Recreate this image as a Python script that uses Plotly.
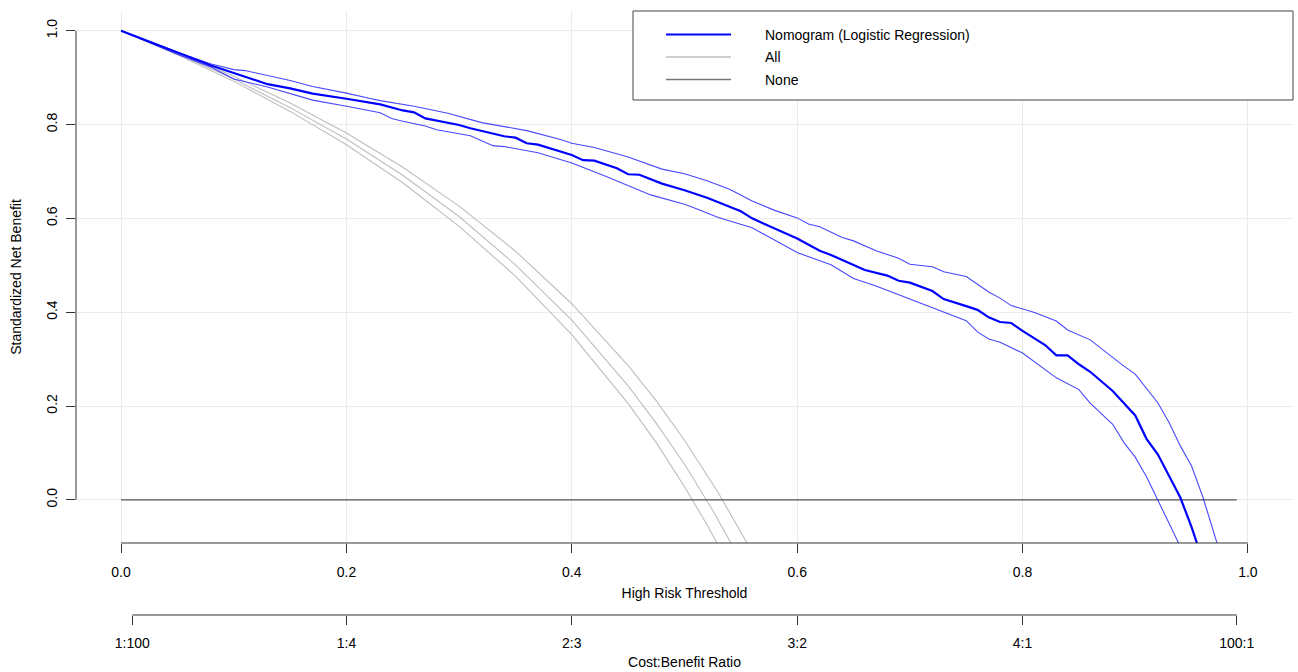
import plotly.graph_objects as go

# ---------------- data ----------------
# Nomogram (Logistic Regression) - standardized net benefit, point estimate
nomo_t = [0.00, 0.03, 0.05, 0.08, 0.10, 0.11, 0.13, 0.15, 0.17, 0.20, 0.23, 0.25, 0.26, 0.27,
          0.30, 0.31, 0.34, 0.35, 0.36, 0.37, 0.40, 0.41, 0.42, 0.44, 0.45, 0.46, 0.48, 0.50,
          0.52, 0.55, 0.56, 0.57, 0.59, 0.60, 0.62, 0.63, 0.66, 0.68, 0.69, 0.70, 0.72, 0.73,
          0.75, 0.76, 0.77, 0.78, 0.79, 0.80, 0.82, 0.83, 0.84, 0.85, 0.86, 0.88, 0.90, 0.91,
          0.92, 0.93, 0.94, 0.95, 0.96]
nomo_v = [1.000, 0.972, 0.953, 0.926, 0.910, 0.902, 0.886, 0.877, 0.866, 0.855, 0.843, 0.830, 0.826, 0.813,
          0.799, 0.792, 0.775, 0.772, 0.760, 0.757, 0.735, 0.724, 0.723, 0.707, 0.694, 0.693, 0.674, 0.660,
          0.644, 0.615, 0.600, 0.589, 0.567, 0.557, 0.531, 0.522, 0.490, 0.478, 0.467, 0.463, 0.445, 0.428,
          0.413, 0.405, 0.389, 0.379, 0.377, 0.360, 0.330, 0.308, 0.308, 0.289, 0.273, 0.232, 0.180, 0.130,
          0.097, 0.051, 0.005, -0.058, -0.130]

# Nomogram upper confidence limit
nomo_up_t = [0.00, 0.05, 0.08, 0.10, 0.11, 0.12, 0.15, 0.17, 0.20, 0.22, 0.23, 0.26, 0.29, 0.32,
             0.36, 0.39, 0.40, 0.42, 0.45, 0.48, 0.50, 0.52, 0.54, 0.56, 0.58, 0.60, 0.61, 0.62,
             0.64, 0.65, 0.67, 0.69, 0.70, 0.72, 0.73, 0.75, 0.76, 0.77, 0.78, 0.79, 0.81, 0.83,
             0.84, 0.86, 0.89, 0.90, 0.92, 0.93, 0.94, 0.95, 0.96, 0.97, 0.98]
nomo_up_v = [1.000, 0.954, 0.929, 0.917, 0.915, 0.910, 0.894, 0.881, 0.867, 0.856, 0.851, 0.839, 0.824, 0.804,
             0.787, 0.768, 0.760, 0.751, 0.731, 0.705, 0.695, 0.680, 0.662, 0.637, 0.617, 0.601, 0.588, 0.582,
             0.559, 0.552, 0.531, 0.515, 0.502, 0.497, 0.486, 0.476, 0.460, 0.443, 0.430, 0.414, 0.400, 0.381,
             0.362, 0.341, 0.285, 0.268, 0.207, 0.165, 0.115, 0.072, 0.006, -0.070, -0.150]

# Nomogram lower confidence limit
nomo_lo_t = [0.00, 0.05, 0.08, 0.10, 0.13, 0.15, 0.17, 0.20, 0.23, 0.24, 0.25, 0.27, 0.28, 0.31,
             0.33, 0.34, 0.36, 0.37, 0.40, 0.43, 0.47, 0.50, 0.51, 0.53, 0.56, 0.58, 0.60, 0.63,
             0.65, 0.67, 0.70, 0.73, 0.75, 0.76, 0.77, 0.78, 0.80, 0.83, 0.85, 0.86, 0.88, 0.89,
             0.90, 0.91, 0.92, 0.93, 0.94]
nomo_lo_v = [1.000, 0.950, 0.922, 0.897, 0.880, 0.866, 0.852, 0.839, 0.825, 0.813, 0.807, 0.797, 0.789, 0.776,
             0.755, 0.753, 0.744, 0.740, 0.718, 0.690, 0.650, 0.630, 0.621, 0.602, 0.580, 0.553, 0.527, 0.501,
             0.472, 0.456, 0.428, 0.400, 0.382, 0.358, 0.343, 0.336, 0.313, 0.260, 0.235, 0.206, 0.161, 0.122,
             0.091, 0.049, 0.001, -0.050, -0.100]

# "All" strategy with its confidence limits
all_t = [0.00, 0.05, 0.10, 0.15, 0.20, 0.25, 0.30, 0.35, 0.40, 0.45, 0.475, 0.50, 0.525, 0.55]
all_v = [1.000, 0.951, 0.897, 0.836, 0.769, 0.692, 0.604, 0.501, 0.383, 0.243, 0.163, 0.076, -0.022, -0.130]

all_up_t = [0.00, 0.05, 0.10, 0.15, 0.20, 0.25, 0.30, 0.35, 0.40, 0.45, 0.475, 0.50, 0.53, 0.56]
all_up_v = [1.000, 0.954, 0.903, 0.846, 0.782, 0.709, 0.626, 0.530, 0.418, 0.286, 0.211, 0.127, 0.015, -0.111]

all_lo_t = [0.00, 0.05, 0.10, 0.15, 0.20, 0.25, 0.30, 0.35, 0.40, 0.45, 0.475, 0.50, 0.52, 0.54]
all_lo_v = [1.000, 0.949, 0.892, 0.828, 0.757, 0.676, 0.583, 0.477, 0.352, 0.205, 0.122, 0.028, -0.053, -0.141]

# "None" strategy
none_t = [0.00, 0.99]
none_v = [0.0, 0.0]

# axis ticks
x_ticks = [0.0, 0.2, 0.4, 0.6, 0.8, 1.0]
y_ticks = [0.0, 0.2, 0.4, 0.6, 0.8, 1.0]
cb_cost = [1, 1, 2, 3, 4, 100]
cb_benefit = [100, 4, 3, 2, 1, 1]

legend_names = ["Nomogram (Logistic Regression)", "All", "None"]

# ---------------- styles ----------------
BLUE = "#0000FF"
BLUE_CI = "rgba(0,0,255,0.72)"
GREY = "#BEBEBE"
NONE_COL = "#555555"
AXIS_COL = "#333333"
GRID_COL = "#EBEBEB"
FONT = "Liberation Sans, Arial, Helvetica, sans-serif"

fig = go.Figure()

fig.add_trace(go.Scatter(x=all_up_t, y=all_up_v, mode="lines", line=dict(color=GREY, width=1.1),
                         showlegend=False, hoverinfo="skip"))
fig.add_trace(go.Scatter(x=all_lo_t, y=all_lo_v, mode="lines", line=dict(color=GREY, width=1.1),
                         showlegend=False, hoverinfo="skip"))
fig.add_trace(go.Scatter(x=all_t, y=all_v, mode="lines", line=dict(color=GREY, width=1.1),
                         name="All", showlegend=False))
fig.add_trace(go.Scatter(x=none_t, y=none_v, mode="lines", line=dict(color=NONE_COL, width=1.1),
                         name="None", showlegend=False))
fig.add_trace(go.Scatter(x=nomo_up_t, y=nomo_up_v, mode="lines", line=dict(color=BLUE_CI, width=1.1),
                         showlegend=False, hoverinfo="skip"))
fig.add_trace(go.Scatter(x=nomo_lo_t, y=nomo_lo_v, mode="lines", line=dict(color=BLUE_CI, width=1.1),
                         showlegend=False, hoverinfo="skip"))
fig.add_trace(go.Scatter(x=nomo_t, y=nomo_v, mode="lines", line=dict(color=BLUE, width=2.2),
                         name="Nomogram (Logistic Regression)", showlegend=False))
# empty trace to instantiate the cost:benefit axis subplot
fig.add_trace(go.Scatter(x=[], y=[], xaxis="x2", yaxis="y2", showlegend=False, hoverinfo="skip"))

cb_vals = [c / (c + b) for c, b in zip(cb_cost, cb_benefit)]
cb_text = [f"{c}:{b}" for c, b in zip(cb_cost, cb_benefit)]

tickfont = dict(family=FONT, size=14, color="black")

fig.update_layout(
    width=1298, height=672, autosize=False,
    margin=dict(l=76, r=5, t=11, b=57),
    paper_bgcolor="white", plot_bgcolor="white",
    font=dict(family=FONT, size=14, color="black"),
    xaxis=dict(domain=[0, 1], range=[-0.04, 1.04], anchor="y",
               tickvals=x_ticks, ticktext=[f"{v:.1f}" for v in x_ticks],
               ticks="outside", ticklen=9, tickwidth=1, tickcolor=AXIS_COL,
               ticklabelstandoff=7,
               showline=False, zeroline=False, showgrid=True, gridcolor=GRID_COL, gridwidth=1,
               tickfont=tickfont,
               title=dict(text="High Risk Threshold", font=dict(family=FONT, size=14), standoff=9)),
    yaxis=dict(domain=[72 / 604, 1], range=[-0.092, 1.042], anchor="x",
               tickvals=y_ticks, ticktext=[f"{v:.1f}" for v in y_ticks], tickangle=-90,
               ticks="outside", ticklen=9, tickwidth=1, tickcolor=AXIS_COL,
               ticklabelstandoff=3,
               showline=False, zeroline=False, showgrid=True, gridcolor=GRID_COL, gridwidth=1,
               tickfont=tickfont,
               title=dict(text="Standardized Net Benefit", font=dict(family=FONT, size=14), standoff=19)),
    xaxis2=dict(domain=[0, 1], range=[-0.04, 1.04], anchor="y2",
                tickvals=cb_vals, ticktext=cb_text,
                ticks="outside", ticklen=9, tickwidth=1, tickcolor=AXIS_COL,
                ticklabelstandoff=6,
                showline=False, zeroline=False, showgrid=False, tickfont=tickfont,
                title=dict(text="Cost:Benefit Ratio", font=dict(family=FONT, size=14), standoff=7)),
    yaxis2=dict(domain=[0, 0.002], range=[0, 1], anchor="x2", visible=False),
    showlegend=False,
)

shapes = [
    # R-style axis lines spanning first to last tick
    dict(type="line", xref="x", yref="y domain", x0=x_ticks[0], x1=x_ticks[-1], y0=0, y1=0,
         line=dict(color=AXIS_COL, width=1)),
    dict(type="line", xref="x domain", yref="y", x0=0, x1=0, y0=y_ticks[0], y1=y_ticks[-1],
         line=dict(color=AXIS_COL, width=1)),
    dict(type="line", xref="x2", yref="y2 domain", x0=cb_vals[0], x1=cb_vals[-1], y0=0, y1=0,
         line=dict(color=AXIS_COL, width=1)),
    # legend box
    dict(type="rect", xref="x domain", yref="y domain", x0=(633 - 76) / 1217, x1=1.0,
         y0=(543 - 100) / 532, y1=1.0, line=dict(color="#444444", width=1), fillcolor="white",
         layer="above"),
]

legend_colors = [BLUE, GREY, "#777777"]
legend_widths = [2.2, 1.3, 1.3]
legend_rows = [34.5, 57.0, 79.5]
annotations = []
for name, col, w, py in zip(legend_names, legend_colors, legend_widths, legend_rows):
    yd = (543 - py) / 532
    shapes.append(dict(type="line", xref="x domain", yref="y domain",
                       x0=(666 - 76) / 1217, x1=(731 - 76) / 1217, y0=yd, y1=yd,
                       line=dict(color=col, width=w), layer="above"))
    annotations.append(dict(xref="x domain", yref="y domain", x=(763 - 76) / 1217, y=yd,
                            text=name, showarrow=False, xanchor="left", yanchor="middle",
                            font=dict(family=FONT, size=14, color="black")))

fig.update_layout(shapes=shapes, annotations=annotations)

fig.write_html("out.html")
